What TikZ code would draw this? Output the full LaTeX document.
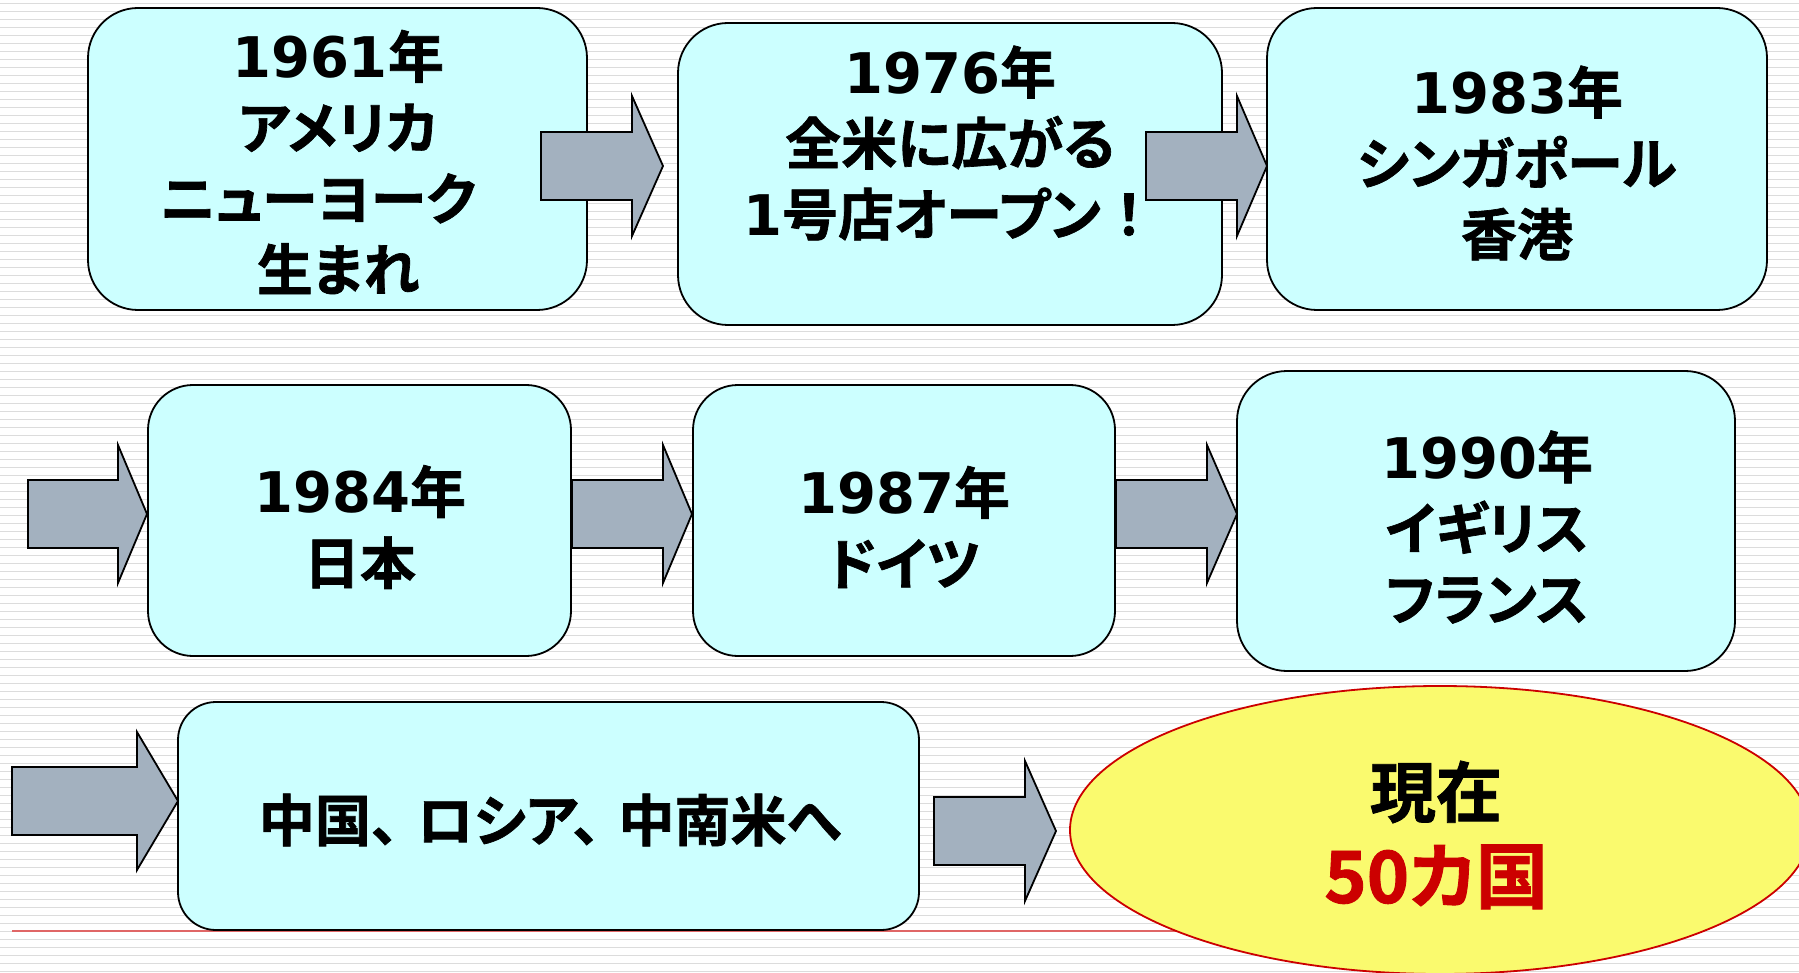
\documentclass[tikz,border=0pt]{standalone}
\usepackage{fontspec}
\setmainfont{DejaVu Sans}
\newfontfamily\jp{Noto Sans CJK JP}[UprightFont=* Bold, BoldFont=* Bold, FakeBold=1.2, RawFeature=+palt]
\newfontfamily\jpf{Noto Sans CJK JP}[UprightFont=* Bold, BoldFont=* Bold, FakeBold=1.2]
\usetikzlibrary{shapes.geometric}
\definecolor{boxfill}{HTML}{CCFFFF}
\definecolor{arrfill}{HTML}{A3B1BF}
\definecolor{elfill}{HTML}{FAFA6E}
\definecolor{elred}{HTML}{CC0000}
\definecolor{lnred}{HTML}{E06666}
\definecolor{stripecol}{HTML}{DCDCDC}
\newcommand\dv[1]{{\rmfamily\bfseries #1}}
\newcommand\barrow[5]{%
  \draw[arr] (#1,#4-34) -- (#2,#4-34) -- (#2,#4-#5) -- (#3,#4) -- (#2,#4+#5) -- (#2,#4+34) -- (#1,#4+34) -- cycle;}
\tikzset{
  stripe/.style={draw=stripecol, line width=1.8pt},
  box/.style={draw=black, line width=1.8pt, fill=boxfill, rectangle},
  arr/.style={draw=black, line width=1.8pt, fill=arrfill, line join=miter},
  txt/.style={align=center, inner sep=0pt, font=\jp\fontsize{56}{71}\selectfont},
  bigtxt/.style={align=center, inner sep=0pt, font=\jp\fontsize{66}{86}\selectfont},
}
\begin{document}
\begin{tikzpicture}[x=1pt, y=-1pt]
\useasboundingbox (0,0) rectangle (1799,973);
\clip (0,0) rectangle (1799,973);
\fill[white] (0,0) rectangle (1799,973);
\foreach \k in {0,...,121} \draw[stripe] (0,{8*\k+3.5}) -- (1799,{8*\k+3.5});
% red rule
\coordinate (rl) at (12,931);
\coordinate (rr) at (1500,931);
\draw[lnred, line width=2pt] (rl) -- (rr);
% boxes
\node[box, minimum width=499pt, minimum height=302pt, rounded corners=50pt] (b1) at (337.5,159) {};
\node[box, minimum width=544pt, minimum height=302pt, rounded corners=50pt] (b2) at (950,174) {};
\node[box, minimum width=500pt, minimum height=302pt, rounded corners=50pt] (b3) at (1517,159) {};
\node[box, minimum width=423pt, minimum height=271pt, rounded corners=45pt] (b4) at (359.5,520.5) {};
\node[box, minimum width=422pt, minimum height=271pt, rounded corners=45pt] (b5) at (904,520.5) {};
\node[box, minimum width=498pt, minimum height=300pt, rounded corners=50pt] (b6) at (1486,521) {};
\node[box, minimum width=741pt, minimum height=228pt, rounded corners=38pt] (b7) at (548.5,816) {};
\node[ellipse, draw=elred, line width=1.8pt, fill=elfill, minimum width=740pt, minimum height=288pt, inner sep=0pt] (el) at (1440,830) {};
% block arrows
\barrow{541}{632}{663}{166}{70}
\barrow{1146}{1237}{1267}{166}{70}
\barrow{28}{118}{147}{514}{69}
\barrow{572}{663}{692}{514}{69}
\barrow{1116}{1207}{1237}{514}{69}
\barrow{12}{137}{178}{801}{69}
\barrow{934}{1025}{1056}{831}{70}
% texts
\node[txt] (t1) at (338,162) {\dv{1961}年\\アメリカ\\\hbox{ニューヨーク\kern40pt}\\生まれ};
\node[txt] (t2) at (950,143) {\dv{1976}年\\全米に広がる\\\dv{1}号店オープン{\jpf ！}};
\node[txt] (t3) at (1517,163) {\dv{1983}年\\シンガポール\\香港};
\node[txt] (t4) at (360,527) {\dv{1984}年\\日本};
\node[txt] (t5) at (904,527) {\dv{1987}年\\ドイツ};
\node[txt] (t6) at (1487,527) {\dv{1990}年\\イギリス\\フランス};
\node[txt] (t7) at (550,820) {中国、\hspace{18pt}ロシア、\hspace{18pt}中南米へ};
\node[bigtxt] (t8) at (1436,835) {現在\\{\fontsize{72}{86}\selectfont\color{elred}50カ国}};
\end{tikzpicture}
\end{document}
